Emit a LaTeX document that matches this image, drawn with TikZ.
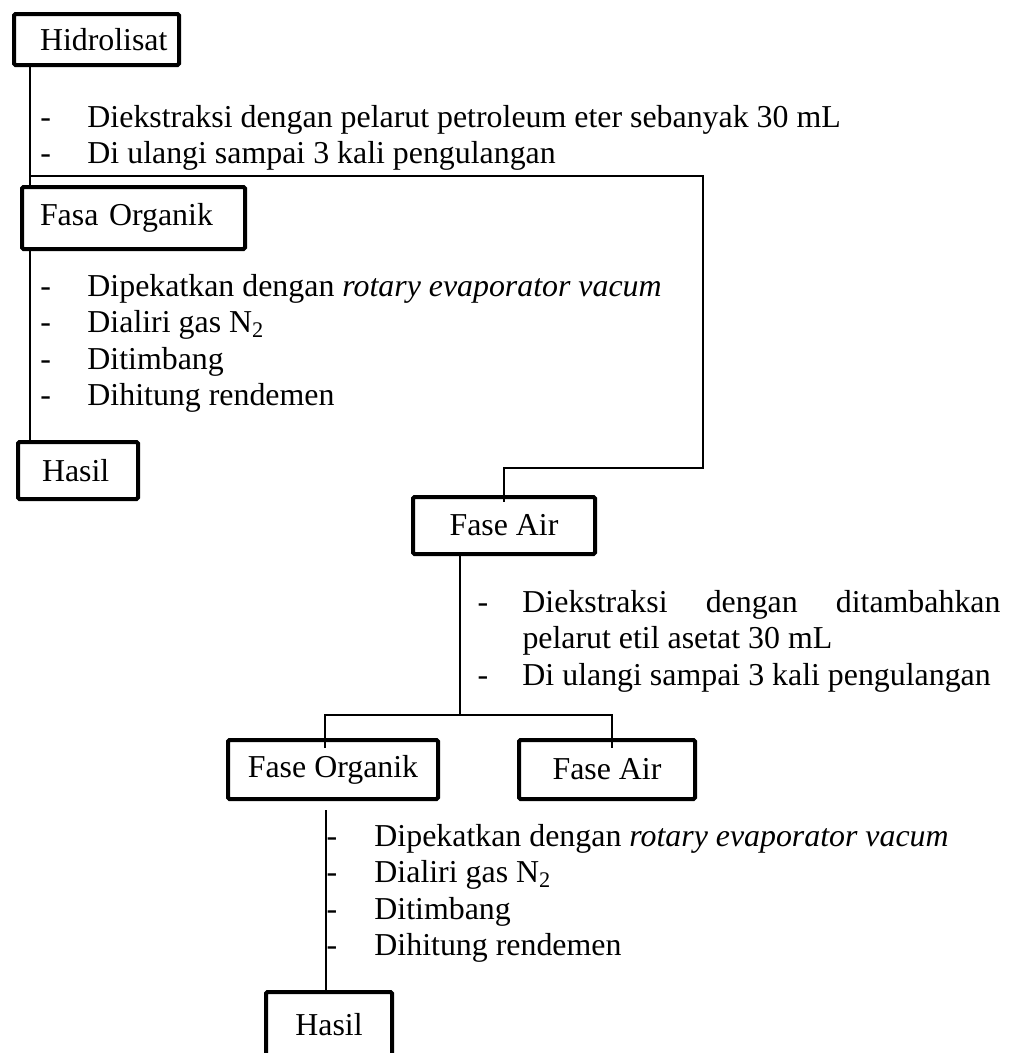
\documentclass[tikz,border=0pt]{standalone}
\usepackage{fontspec}
\setmainfont{Liberation Serif}
\usetikzlibrary{calc}

\newcommand{\docfont}{\fontsize{12.75}{14.65}\selectfont}
\newcommand{\steplist}[2][18.8pt]{\begin{tabular}[t]{@{}p{#1}@{}l@{}}#2\end{tabular}}

\begin{document}
\begin{tikzpicture}[
  x=0.4pt, y=-0.4pt,
  every node/.style={font=\docfont, inner sep=0pt},
  flowbox/.style={draw, line width=1.6pt, rounded corners=0.6pt, anchor=north west},
  leftbox/.style={flowbox, text width=#1, align=left},
  midbox/.style={flowbox, minimum width=#1, align=center},
  steps/.style={anchor=base west},
  link/.style={line width=0.6pt}]

\useasboundingbox (0,0) rectangle (1009,1053);

%% Boxes
\node[leftbox=66pt,   minimum height=20.4pt] (hidro)    at (12,12)   {\hspace*{10.4pt}Hidrolisat};
\node[leftbox=89.2pt, minimum height=24.8pt] (fasaorg)  at (20,185)  {\hspace*{7.2pt}Fasa Organik};
\node[leftbox=48pt,   minimum height=22.8pt] (hasilA)   at (16,440)  {\hspace*{9.6pt}Hasil};
\node[midbox=72.8pt,  minimum height=22.8pt] (faseair)  at (411,495) {Fase Air};
\node[midbox=84pt,    minimum height=23.6pt] (faseorg)  at (226,738) {Fase Organik};
\node[midbox=70.4pt,  minimum height=23.6pt] (faseairB) at (517,738) {Fase Air};
\node[midbox=50.4pt,  minimum height=26pt]   (hasilB)   at (264,990) {Hasil};

%% Treatment steps
\node[steps] (stepsA) at (40,127) {\steplist{
  - & Diekstraksi dengan pelarut petroleum eter sebanyak 30 mL\\
  - & Di ulangi sampai 3 kali pengulangan}};
\node[steps] (stepsB) at (40,296) {\steplist{
  - & Dipekatkan dengan \textit{rotary evaporator vacum}\\
  - & Dialiri gas N\textsubscript{2}\\
  - & Ditimbang\\
  - & Dihitung rendemen}};
\node[steps] (stepsC) at (477,612) {\begin{tabular}[t]{@{}p{18pt}@{}p{191.2pt}@{}}
  - & Diekstraksi dengan ditambahkan\linebreak pelarut etil asetat 30 mL\\
  - & Di ulangi sampai 3 kali pengulangan\end{tabular}};
\node[steps] (stepsD) at (326,846) {\steplist[19.2pt]{
  - & Dipekatkan dengan \textit{rotary evaporator vacum}\\
  - & Dialiri gas N\textsubscript{2}\\
  - & Ditimbang\\
  - & Dihitung rendemen}};

%% Connectors
\coordinate (spineA) at (30,176);
\coordinate (turnA)  at (703,176);
\coordinate (spineB) at (460,715);
\coordinate (forkL)  at (325,715);
\coordinate (forkR)  at (612,715);
\coordinate (spineC) at (326,810);

\draw[link] (hidro.south -| spineA) -- (fasaorg.north -| spineA);
\draw[link] (spineA) -- (turnA) -- ++(0,292) -| ($(faseair.north)+(0,7)$);
\draw[link] (fasaorg.south -| spineA) -- (hasilA.north -| spineA);
\draw[link] (faseair.south -| spineB) -- (spineB);
\draw[link] ($(forkL |- faseorg.north)+(0,10)$) -- (forkL) -- (forkR)
            -- ($(forkR |- faseairB.north)+(0,10)$);
\draw[link] (spineC) -- (hasilB.north -| spineC);
\end{tikzpicture}
\end{document}
